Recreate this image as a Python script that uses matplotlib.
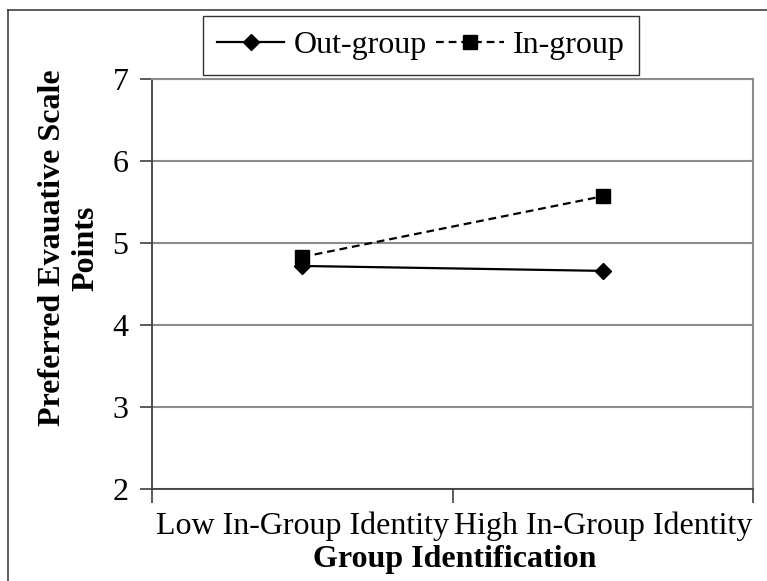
import numpy as np
import matplotlib.pyplot as plt
from matplotlib.lines import Line2D

plt.rcParams['font.family'] = ['Liberation Serif', 'DejaVu Serif']

groups = ['Low In-Group Identity', 'High In-Group Identity']
out_group = [4.72, 4.66]
in_group = [4.83, 5.57]

fs = 23

fig = plt.figure(figsize=(7.67, 5.81), dpi=100)
ax = fig.add_axes([152/767, 1-489/581, (753-152)/767, (489-79)/581])

x = np.arange(len(groups))
ax.plot(x, out_group, color='black', lw=1.6, marker='D', markersize=8.5,
        label='Out-group', zorder=3)
ax.plot(x, in_group, color='black', lw=1.6, ls=(0, (3.5, 2.2)), marker='s',
        markersize=10, label='In-group', zorder=4)

ax.set_xlim(-0.5, 1.5)
ax.set_ylim(2, 7)
ax.set_yticks([2, 3, 4, 5, 6, 7])
ax.yaxis.grid(True, color='#8c8c8c', lw=1.5)
ax.set_axisbelow(True)

# category boundaries as ticks, names centred between them
ax.set_xticks([-0.5, 0.5, 1.5])
ax.set_xticklabels([])
ax.set_xticks(x, minor=True)
ax.set_xticklabels(groups, minor=True)
ax.tick_params(axis='x', which='major', length=10, width=1.2, color='#404040')
ax.tick_params(axis='x', which='minor', length=0, pad=16, labelsize=fs)
ax.tick_params(axis='y', length=9, width=1.2, color='#404040', labelsize=fs, pad=8)

for s in ['top', 'right']:
    ax.spines[s].set_color('#8c8c8c')
    ax.spines[s].set_linewidth(1.5)
for s in ['left', 'bottom']:
    ax.spines[s].set_color('#404040')
    ax.spines[s].set_linewidth(1.3)

fig.text(69/767, 1-248/581, 'Preferred Evauative Scale\nPoints', rotation=90,
         ha='center', va='center', fontsize=fs, fontweight='bold',
         linespacing=1.2)
fig.text(455/767, 1-559/581, 'Group Identification', ha='center', va='center',
         fontsize=fs, fontweight='bold')

leg = ax.legend(loc='center', bbox_to_anchor=(421/767, 1-45.5/581),
                bbox_transform=fig.transFigure, ncol=2, fontsize=fs,
                frameon=True, fancybox=False, handlelength=2.1,
                handletextpad=0.3, columnspacing=0.3, borderpad=0.45,
                borderaxespad=0)
leg.get_frame().set_edgecolor('black')
leg.get_frame().set_linewidth(1.0)

# outer chart border
fig.add_artist(Line2D([8/767, 1], [1-10/581, 1-10/581], color='#404040', lw=1.2,
                      transform=fig.transFigure))
fig.add_artist(Line2D([8/767, 8/767], [0, 1-10/581], color='#404040', lw=1.2,
                      transform=fig.transFigure))

fig.savefig('out.png', dpi=100)
